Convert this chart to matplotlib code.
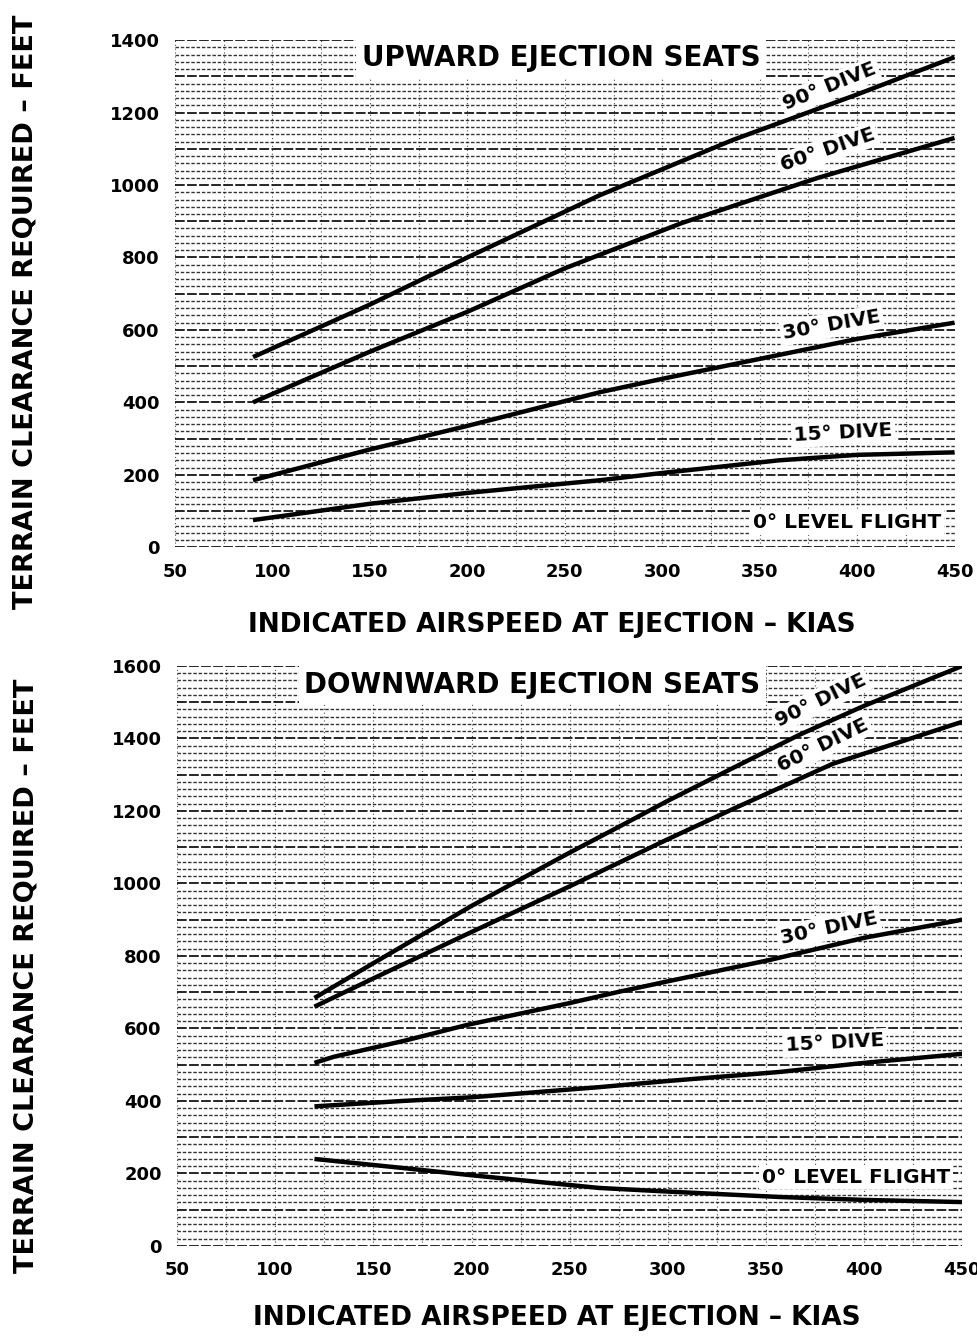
import matplotlib.pyplot as plt
import numpy as np

# Upward ejection seats - terrain clearance (ft) vs airspeed (KIAS)
up_speed_90 = [90, 150, 200, 268, 336, 400, 450]
up_ft_90 = [525, 670, 800, 972, 1124, 1250, 1353]
up_speed_60 = [90, 150, 200, 250, 310, 380, 450]
up_ft_60 = [400, 540, 650, 770, 895, 1020, 1130]
up_speed_30 = [90, 150, 200, 268, 300, 350, 400, 450]
up_ft_30 = [185, 270, 335, 428, 465, 520, 575, 620]
up_speed_15 = [90, 150, 200, 268, 300, 360, 400, 450]
up_ft_15 = [75, 120, 150, 185, 205, 240, 255, 262]

# Downward ejection seats
dn_speed_90 = [120, 150, 200, 250, 275, 300, 333, 367, 400, 450]
dn_ft_90 = [684, 780, 938, 1085, 1156, 1228, 1318, 1410, 1490, 1600]
dn_speed_60 = [120, 150, 200, 250, 275, 300, 333, 384, 450]
dn_ft_60 = [660, 738, 866, 992, 1057, 1122, 1205, 1330, 1446]
dn_speed_30 = [120, 130, 165, 198, 250, 275, 300, 352, 400, 450]
dn_ft_30 = [505, 522, 565, 610, 670, 701, 730, 789, 850, 900]
dn_speed_15 = [120, 165, 200, 265, 300, 357, 400, 450]
dn_ft_15 = [385, 400, 410, 438, 455, 480, 505, 530]
dn_speed_0 = [120, 165, 200, 265, 300, 357, 400, 450]
dn_ft_0 = [240, 215, 195, 160, 150, 135, 127, 121]

x_ticks = [50, 100, 150, 200, 250, 300, 350, 400, 450]

FONT = 'DejaVu Sans'


def draw_panel(ax, ymax, curves, labels, title, title_pos, xlabel_y):
    ax.set_xlim(50, 450)
    ax.set_ylim(0, ymax)
    # dense dashed chart-paper grid
    for y in np.arange(0, ymax + 1, 20):
        if y % 100 == 0:
            ax.axhline(y, color='black', lw=1.4, ls=(0, (5, 1.2)), alpha=0.85, zorder=1)
        else:
            ax.axhline(y, color='black', lw=1.0, ls=(0, (2.5, 1.3)), alpha=0.8, zorder=1)
    for x in np.arange(50, 451, 25):
        ax.axvline(x, color='black', lw=0.8, ls=(0, (1, 2.5)), alpha=0.7, zorder=1)

    for xs, ys in curves:
        ax.plot(xs, ys, color='black', lw=3.2, solid_capstyle='butt', zorder=3)

    box = dict(facecolor='white', edgecolor='none', pad=2)
    for text, x, y, rot in labels:
        ax.text(x, y, text, rotation=rot, rotation_mode='anchor', ha='center', va='center',
                fontsize=14.5, fontweight='bold', family=FONT, bbox=box, zorder=4)
    ax.text(title_pos[0], title_pos[1], title, ha='center', va='center',
            fontsize=20, fontweight='bold', family=FONT,
            bbox=dict(facecolor='white', edgecolor='none', pad=4), zorder=4)

    ax.set_xticks(x_ticks)
    ax.set_yticks(np.arange(0, ymax + 1, 200))
    ax.tick_params(length=0, labelsize=13, pad=11)
    for lab in ax.get_xticklabels() + ax.get_yticklabels():
        lab.set_fontweight('bold')
    for s in ax.spines.values():
        s.set_visible(False)
    ax.set_xlabel('INDICATED AIRSPEED AT EJECTION – KIAS', fontsize=19, fontweight='bold')
    ax.set_ylabel('TERRAIN CLEARANCE REQUIRED – FEET', fontsize=19.5, fontweight='bold')
    ax.xaxis.set_label_coords(0.483, xlabel_y)
    ax.xaxis.label.set_va('center')
    ax.yaxis.set_label_coords(-0.192, 0.465)
    ax.yaxis.label.set_va('center')


fig = plt.figure(figsize=(9.78, 13.38), dpi=100)
ax1 = fig.add_axes([0.179, 0.591, 0.797, 0.379])
ax2 = fig.add_axes([0.181, 0.0688, 0.803, 0.4335])

draw_panel(ax1, 1400,
           [(up_speed_90, up_ft_90), (up_speed_60, up_ft_60),
            (up_speed_30, up_ft_30), (up_speed_15, up_ft_15)],
           [('90° DIVE', 386, 1271, 22), ('60° DIVE', 385, 1097, 19),
            ('30° DIVE', 387, 613, 10), ('15° DIVE', 393, 315, 3),
            ('0° LEVEL FLIGHT', 395, 69, 0)],
           'UPWARD EJECTION SEATS', (248, 1351), -0.154)

draw_panel(ax2, 1600,
           [(dn_speed_90, dn_ft_90), (dn_speed_60, dn_ft_60),
            (dn_speed_30, dn_ft_30), (dn_speed_15, dn_ft_15),
            (dn_speed_0, dn_ft_0)],
           [('90° DIVE', 378, 1506, 26), ('60° DIVE', 379, 1382, 26),
            ('30° DIVE', 382, 877, 12), ('15° DIVE', 385, 560, 3),
            ('0° LEVEL FLIGHT', 396, 190, 0)],
           'DOWNWARD EJECTION SEATS', (231, 1548), -0.124)

fig.savefig('out.png', dpi=100)
